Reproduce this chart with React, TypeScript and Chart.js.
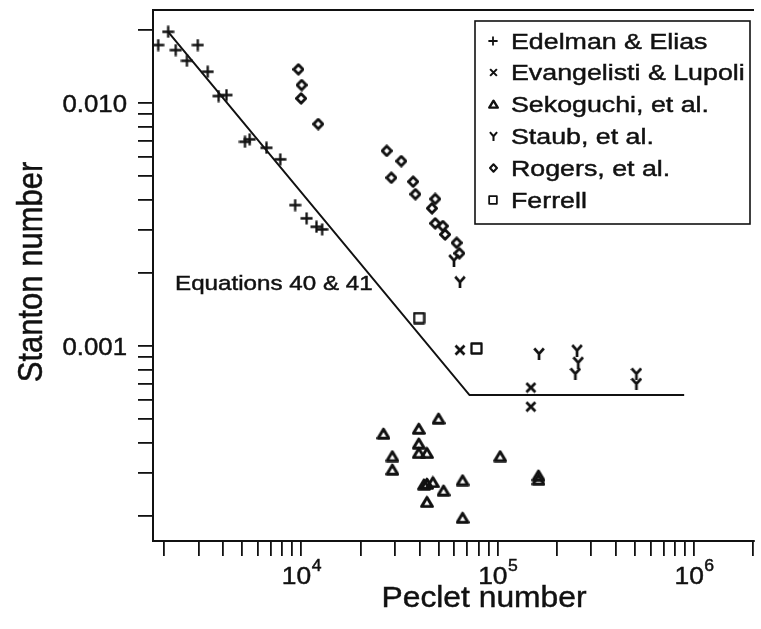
import React, { useEffect, useRef } from 'react';
import { Chart, registerables } from 'chart.js';
Chart.register(...registerables);

// ---------------- data ----------------
const edelmanX = [1866, 2096, 2291, 2612, 2968, 3333, 3787, 4155, 5160, 5453, 6640, 7810, 9297, 10630, 11940, 12760];
const edelmanY = [0.01733, 0.01965, 0.01652, 0.01493, 0.01733, 0.01346, 0.01069, 0.01079, 0.00693, 0.00709, 0.006547, 0.005866, 0.003804, 0.003354, 0.003097, 0.003021];

const evangelistiX = [64210, 147500, 147500];
const evangelistiY = [0.000963, 0.000675, 0.000563];

const sekoguchiX = [49960, 26190, 39630, 39630, 29070, 29070, 39630, 43620, 102900, 43620, 42140, 46780, 52960, 66260, 43620, 66260, 161300, 161300];
const sekoguchiY = [0.000504, 0.000437, 0.000458, 0.000398, 0.000353, 0.000311, 0.000364, 0.000364, 0.000353, 0.000272, 0.00027, 0.000276, 0.000255, 0.000281, 0.000229, 0.000197, 0.000294, 0.000283];

const staubX = [59880, 64210, 162400, 253600, 257000, 248600, 508500, 508500];
const staubY = [0.00226, 0.00184, 0.000933, 0.000963, 0.000858, 0.000772, 0.000772, 0.000702];

const rogersX = [9660, 10035, 9965, 12180, 27210, 32270, 28730, 37100, 38100, 48040, 46240, 48040, 52530, 53950, 61800, 63760];
const rogersY = [0.01376, 0.01186, 0.01045, 0.0082, 0.00636, 0.00577, 0.00493, 0.00475, 0.00422, 0.00403, 0.00369, 0.0032, 0.00312, 0.00288, 0.00266, 0.00241];

const ferrellX = [39770, 77940];
const ferrellY = [0.001304, 0.000978];

const equationX = [2096, 71850, 890500];
const equationY = [0.01965, 0.0006286, 0.0006286];

const legendLabels = ['Edelman & Elias', 'Evangelisti & Lupoli', 'Sekoguchi, et al.', 'Staub, et al.', 'Rogers, et al.', 'Ferrell'];
const legendKinds = ['plus', 'cross', 'triangle', 'y', 'diamond', 'square'];

const tickMantissas = [1, 2, 3, 4, 5, 6, 7, 8, 9];
const xDecades = [1e3, 1e4, 1e5, 1e6];
const yDecades = [1e-4, 1e-3, 1e-2];
const xLabelExponents = [4, 5, 6];
const yLabelValues = [0.01, 0.001];
const yLabelTexts = ['0.010', '0.001'];

const X_MIN = 1755;
const X_MAX = 2.02e6;
const Y_MIN = 1.578e-4;
const Y_MAX = 0.02415;

const INK = '#111';
const FONT = '"Liberation Sans", Arimo, Arial, Helvetica, sans-serif';

// ---------------- markers ----------------
function makeMarker(kind: string, s: number): HTMLCanvasElement {
  const c = document.createElement('canvas');
  let w = 13, h = 13;
  if (kind === 'triangle') { w = 14; h = 13; }
  if (kind === 'cross') { w = 12; h = 12; }
  if (kind === 'y') { w = 12; h = 13; }
  if (kind === 'diamond') { w = 12; h = 13; }
  if (kind === 'square') { w = 13; h = 13; }
  c.width = Math.round(w * s);
  c.height = Math.round(h * s);
  const ctx = c.getContext('2d')!;
  ctx.scale(c.width / w, c.height / h);
  ctx.strokeStyle = INK;
  ctx.lineCap = 'butt';
  ctx.lineJoin = 'round';
  ctx.beginPath();
  if (kind === 'plus') {
    ctx.lineWidth = 2.3;
    ctx.moveTo(6.5, 0.5); ctx.lineTo(6.5, 12.5);
    ctx.moveTo(0.5, 6.5); ctx.lineTo(12.5, 6.5);
  } else if (kind === 'cross') {
    ctx.lineWidth = 2.8;
    ctx.moveTo(1.5, 1.5); ctx.lineTo(10.5, 10.5);
    ctx.moveTo(10.5, 1.5); ctx.lineTo(1.5, 10.5);
  } else if (kind === 'triangle') {
    ctx.lineWidth = 3;
    ctx.moveTo(7, 2.2); ctx.lineTo(12.4, 11.3); ctx.lineTo(1.6, 11.3); ctx.closePath();
  } else if (kind === 'y') {
    ctx.lineWidth = 2.7;
    ctx.moveTo(1.2, 1.5); ctx.lineTo(6, 6.8);
    ctx.moveTo(10.8, 1.5); ctx.lineTo(6, 6.8);
    ctx.lineTo(6, 13);
  } else if (kind === 'diamond') {
    ctx.lineWidth = 2.8;
    ctx.moveTo(6, 1.7); ctx.lineTo(10.6, 6.5); ctx.lineTo(6, 11.3); ctx.lineTo(1.4, 6.5); ctx.closePath();
  } else if (kind === 'square') {
    ctx.lineWidth = 2.3;
    ctx.rect(1.5, 1.5, 10, 10);
  }
  ctx.stroke();
  return c;
}

function drawText(ctx: CanvasRenderingContext2D, s: string, x: number, y: number, size: number, sx: number, align: string) {
  ctx.save();
  ctx.font = `${size}px ${FONT}`;
  ctx.fillStyle = INK;
  ctx.strokeStyle = INK;
  ctx.lineWidth = 0.45;
  ctx.textBaseline = 'alphabetic';
  ctx.textAlign = 'left';
  const w = ctx.measureText(s).width * sx;
  const x0 = align === 'center' ? x - w / 2 : align === 'right' ? x - w : x;
  ctx.translate(x0, y);
  ctx.scale(sx, 1);
  ctx.fillText(s, 0, 0);
  ctx.strokeText(s, 0, 0);
  ctx.restore();
  return w;
}

function measure(ctx: CanvasRenderingContext2D, s: string, size: number, sx: number) {
  ctx.save();
  ctx.font = `${size}px ${FONT}`;
  const w = ctx.measureText(s).width * sx;
  ctx.restore();
  return w;
}

const toPoints = (xs: number[], ys: number[]) => xs.map((x, i) => ({ x, y: ys[i] }));

export default function App() {
  const ref = useRef<HTMLCanvasElement | null>(null);

  useEffect(() => {
    const canvas = ref.current;
    if (!canvas) return;
    const kinds = ['plus', 'cross', 'triangle', 'y', 'diamond', 'square'];
    const big: Record<string, HTMLCanvasElement> = {};
    const small: Record<string, HTMLCanvasElement> = {};
    kinds.forEach((k) => { big[k] = makeMarker(k, 1); small[k] = makeMarker(k, 0.78); });

    const xTicks = xDecades.flatMap((d) => tickMantissas.map((m) => m * d)).filter((v) => v >= X_MIN && v <= X_MAX);
    const yTicks = yDecades.flatMap((d) => tickMantissas.map((m) => m * d)).filter((v) => v >= Y_MIN && v <= Y_MAX);

    const overlay = {
      id: 'overlay',
      afterDraw(chart: any) {
        const ctx: CanvasRenderingContext2D = chart.ctx;
        const area = chart.chartArea;
        const xs = chart.scales.x;
        const ys = chart.scales.y;
        // top frame line
        ctx.save();
        ctx.strokeStyle = INK;
        ctx.lineWidth = 2;
        ctx.beginPath();
        ctx.moveTo(area.left - 1, area.top);
        ctx.lineTo(area.right, area.top);
        ctx.stroke();
        ctx.restore();

        // y tick labels
        yLabelValues.forEach((v, i) => {
          const py = ys.getPixelForValue(v);
          drawText(ctx, yLabelTexts[i], 127, py + 8.5, 23, 1.12, 'right');
        });
        // x tick labels 10^n
        xLabelExponents.forEach((e) => {
          const px = xs.getPixelForValue(Math.pow(10, e));
          const wb = measure(ctx, '10', 24, 1.1);
          const we = measure(ctx, String(e), 16, 1.1);
          const x0 = px - (wb + we) / 2;
          drawText(ctx, '10', x0, 584, 24, 1.1, 'left');
          drawText(ctx, String(e), x0 + wb + 0.5, 571, 16, 1.1, 'left');
        });
        // axis titles
        drawText(ctx, 'Peclet number', 484, 607, 30, 1.06, 'center');
        ctx.save();
        ctx.translate(42, 272);
        ctx.rotate(-Math.PI / 2);
        ctx.scale(1, 1.15);
        ctx.font = `31px ${FONT}`;
        ctx.fillStyle = INK;
        ctx.strokeStyle = INK;
        ctx.lineWidth = 0.45;
        ctx.textAlign = 'center';
        ctx.textBaseline = 'alphabetic';
        ctx.fillText('Stanton number', 0, 0);
        ctx.strokeText('Stanton number', 0, 0);
        ctx.restore();

        // annotation
        drawText(ctx, 'Equations 40 & 41', 175, 290, 20.5, 1.18, 'left');

        // legend
        ctx.save();
        ctx.fillStyle = '#fff';
        ctx.fillRect(475, 21, 275, 203);
        ctx.strokeStyle = INK;
        ctx.lineWidth = 1.6;
        ctx.strokeRect(475, 21, 275, 203);
        ctx.restore();
        legendLabels.forEach((label, i) => {
          const base = 48.5 + i * 31.8;
          const m = small[legendKinds[i]];
          ctx.drawImage(m, Math.round(493 - m.width / 2), Math.round(base - 8 - m.height / 2));
          drawText(ctx, label, 511, base, 22.5, 1.19, 'left');
        });
      },
    };

    const mk = (xs: number[], ys: number[], kind: string) => ({
      type: 'scatter' as const,
      data: toPoints(xs, ys),
      pointStyle: big[kind],
      pointRadius: 6,
      borderColor: INK,
      backgroundColor: INK,
    });

    const chart = new Chart(canvas, {
      type: 'scatter',
      data: {
        datasets: [
          {
            type: 'line',
            data: toPoints(equationX, equationY),
            borderColor: INK,
            borderWidth: 2,
            pointRadius: 0,
            fill: false,
            tension: 0,
          } as any,
          mk(edelmanX, edelmanY, 'plus'),
          mk(evangelistiX, evangelistiY, 'cross'),
          mk(sekoguchiX, sekoguchiY, 'triangle'),
          mk(staubX, staubY, 'y'),
          mk(rogersX, rogersY, 'diamond'),
          mk(ferrellX, ferrellY, 'square'),
        ],
      },
      options: {
        responsive: false,
        animation: false,
        devicePixelRatio: 1,
        layout: { padding: { top: 10, right: 0, left: 0, bottom: 0 } },
        plugins: { legend: { display: false }, tooltip: { enabled: false } },
        scales: {
          x: {
            type: 'logarithmic',
            position: 'bottom',
            min: X_MIN,
            max: X_MAX,
            afterBuildTicks: (s: any) => { s.ticks = xTicks.map((v) => ({ value: v })); },
            afterFit: (s: any) => { s.height = 88; },
            ticks: { display: false, autoSkip: false },
            grid: { drawOnChartArea: false, drawTicks: true, tickLength: 15, color: INK, lineWidth: 1.8 },
            border: { display: true, color: INK, width: 2 },
          },
          y: {
            type: 'logarithmic',
            position: 'left',
            min: Y_MIN,
            max: Y_MAX,
            afterBuildTicks: (s: any) => { s.ticks = yTicks.map((v) => ({ value: v })); },
            afterFit: (s: any) => { s.width = 153; },
            ticks: { display: false, autoSkip: false },
            grid: { drawOnChartArea: false, drawTicks: true, tickLength: 15, color: INK, lineWidth: 1.8 },
            border: { display: true, color: INK, width: 2 },
          },
        },
      } as any,
      plugins: [overlay],
    });
    return () => chart.destroy();
  }, []);

  return (
    <div style={{ position: 'absolute', left: 0, top: 0, width: 761, height: 629, background: '#fff' }}>
      <canvas ref={ref} width={761} height={629} style={{ display: 'block', width: 761, height: 629 }} />
    </div>
  );
}
